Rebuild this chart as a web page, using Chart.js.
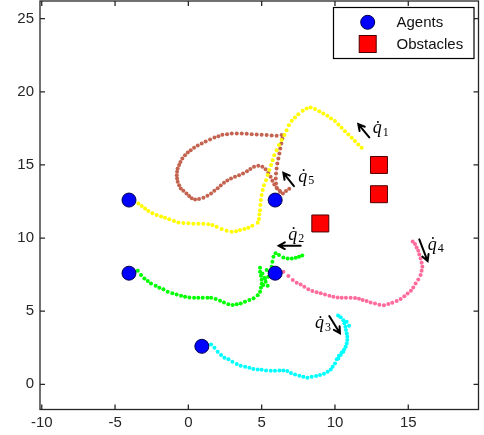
<!DOCTYPE html>
<html>
<head>
<meta charset="utf-8">
<style>
  body { margin: 0; padding: 0; background: #fff; }
  #wrap { width: 484px; height: 435px; }
</style>
</head>
<body>
<div id="wrap"><canvas id="chart" width="484" height="435"></canvas></div>
<script src="https://cdn.jsdelivr.net/npm/chart.js@4.4.0/dist/chart.umd.min.js"></script>
<script>
// axis ticks
var xTicks = [-10, -5, 0, 5, 10, 15];
var yTicks = [0, 5, 10, 15, 20, 25];

// markers
var agents = [[-4.05, 12.6], [5.92, 12.6], [-4.05, 7.6], [5.92, 7.6], [0.92, 2.6]];
var obstacles = [[13, 15], [13, 13], [9, 11]];

// trajectories
var pathQ1 = [[-3.41,12.37],[-3.18,12.19],[-2.95,12.03],[-2.73,11.85],[-2.45,11.69],[-2.16,11.57],[-1.86,11.48],
  [-1.59,11.39],[-1.30,11.28],[-0.98,11.16],[-0.68,11.07],[-0.34,11.03],[0,11.01],[0.34,10.98],[0.68,10.98],
  [1.02,10.98],[1.36,10.94],[1.64,10.89],[1.93,10.78],[2.27,10.62],[2.61,10.50],[2.95,10.43],[3.25,10.46],
  [3.52,10.55],[3.82,10.62],[4.09,10.71],[4.36,10.84],[4.73,11.05],[4.82,11.30],[4.84,11.62],[4.89,11.91],
  [4.91,12.26],[4.95,12.60],[5.00,12.94],[5.07,13.28],[5.16,13.62],[5.30,13.96],[5.41,14.31],[5.52,14.65],
  [5.64,14.99],[5.75,15.33],[5.86,15.67],[6.02,16.01],[6.18,16.36],[6.36,16.70],[6.55,17.04],[6.70,17.38],
  [6.86,17.72],[7.05,18.02],[7.27,18.25],[7.50,18.47],[7.80,18.70],[8.07,18.86],[8.34,18.93],[8.64,18.82],
  [8.93,18.68],[9.20,18.52],[9.48,18.36],[9.73,18.18],[10.00,18.00],[10.23,17.77],[10.45,17.54],[10.68,17.31],
  [10.91,17.08],[11.14,16.86],[11.36,16.63],[11.59,16.40],[11.82,16.17]];

var pathQ5 = [[6.25,13.16],[6.05,13.39],[5.98,13.73],[5.96,14.07],[5.98,14.41],[6.02,14.76],[6.07,15.10],
  [6.14,15.44],[6.21,15.78],[6.27,16.13],[6.34,16.47],[6.41,16.81],[6.36,17.04],[6.02,17.00],[5.68,17.02],
  [5.34,17.04],[5.00,17.06],[4.66,17.08],[4.32,17.10],[3.98,17.13],[3.64,17.15],[3.30,17.15],[2.96,17.15],
  [2.64,17.10],[2.32,17.06],[2.05,16.97],[1.78,16.88],[1.48,16.74],[1.18,16.60],[0.91,16.47],[0.64,16.33],
  [0.39,16.17],[0.16,16.01],[-0.04,15.85],[-0.23,15.67],[-0.41,15.44],[-0.54,15.21],[-0.63,14.99],
  [-0.73,14.76],[-0.77,14.53],[-0.79,14.30],[-0.77,14.08],[-0.73,13.85],[-0.63,13.62],[-0.52,13.39],
  [-0.34,13.23],[-0.13,13.05],[0.05,12.87],[0.23,12.73],[0.46,12.64],[0.73,12.67],[1.03,12.76],[1.30,12.89],
  [1.55,13.05],[1.77,13.23],[2.00,13.41],[2.21,13.60],[2.43,13.78],[2.66,13.94],[2.91,14.07],[3.18,14.19],
  [3.46,14.30],[3.73,14.41],[4.00,14.57],[4.23,14.73],[4.48,14.87],[4.77,14.94],[5.05,14.87],[5.27,14.71],
  [5.45,14.46],[5.61,14.19],[5.73,13.92],[5.86,13.67],[6.02,13.44],[6.23,13.24],[6.45,13.05],[6.66,13.22],
  [6.88,13.38]];

var pathQ2 = [[-3.45,7.76],[-3.23,7.47],[-3.00,7.24],[-2.77,7.06],[-2.55,6.90],[-2.23,6.74],[-1.98,6.60],
  [-1.70,6.51],[-1.41,6.33],[-1.09,6.22],[-0.80,6.15],[-0.50,6.06],[-0.23,5.99],[0.07,5.94],[0.39,5.92],
  [0.68,5.92],[0.98,5.92],[1.30,5.92],[1.55,5.92],[1.86,5.83],[2.16,5.72],[2.43,5.60],[2.73,5.47],
  [3.02,5.42],[3.30,5.47],[3.57,5.53],[3.86,5.65],[4.16,5.76],[4.45,5.88],[4.73,6.10],[4.89,6.33],
  [4.95,6.60],[5.00,6.87],[5.00,7.15],[4.95,7.42],[4.89,7.70],[4.89,7.97],[5.05,7.58],[5.18,7.29],
  [5.27,7.02],[5.11,6.79],[5.41,6.74],[5.23,7.24],[5.45,7.36],[5.34,7.81],[5.64,7.52],[5.68,8.04],
  [5.73,8.38],[5.80,8.72],[5.95,8.97],[6.18,8.84],[6.48,8.68],[6.77,8.61],[7.05,8.61],[7.32,8.65],
  [7.55,8.72],[7.77,8.81]];

var pathQ4 = [[6.48,7.70],[6.82,7.40],[7.12,7.13],[7.39,6.95],[7.66,6.83],[7.91,6.67],[8.18,6.51],
  [8.46,6.38],[8.75,6.29],[9.03,6.22],[9.32,6.15],[9.62,6.06],[9.89,5.99],[10.18,5.94],[10.46,5.92],
  [10.75,5.92],[11.07,5.92],[11.37,5.90],[11.64,5.85],[11.89,5.76],[12.16,5.69],[12.43,5.60],[12.73,5.53],
  [13.03,5.44],[13.34,5.40],[13.64,5.49],[13.91,5.58],[14.21,5.69],[14.48,5.83],[14.73,6.03],[14.96,6.21],
  [15.18,6.40],[15.34,6.62],[15.50,6.90],[15.68,7.17],[15.84,7.47],[15.91,7.76],[15.96,8.04],[15.91,8.31],
  [15.84,8.61],[15.75,8.88],[15.68,9.13],[15.57,9.36],[15.46,9.59],[15.30,9.77]];

var pathQ3 = [[1.55,2.73],[1.78,2.50],[2.00,2.23],[2.23,2.00],[2.46,1.82],[2.73,1.71],[3.00,1.55],
  [3.30,1.39],[3.57,1.27],[3.87,1.21],[4.16,1.14],[4.43,1.05],[4.73,1.02],[5.00,1.00],[5.30,0.95],
  [5.62,0.93],[5.91,0.93],[6.21,0.95],[6.48,0.95],[6.75,0.91],[7.00,0.77],[7.28,0.68],[7.57,0.59],
  [7.84,0.52],[8.12,0.45],[8.41,0.52],[8.71,0.57],[8.98,0.64],[9.25,0.73],[9.50,0.86],[9.71,1.02],
  [9.84,1.21],[10.00,1.43],[10.12,1.71],[10.27,1.96],[10.46,2.18],[10.62,2.39],[10.73,2.57],[10.80,2.80],
  [10.84,3.03],[10.84,3.25],[10.80,3.48],[10.75,3.71],[10.71,3.94],[10.64,4.17],[10.57,4.39],[10.39,4.58],
  [10.21,4.71],[10.23,1.77],[10.39,2.00],[10.57,2.23],[10.80,4.28],[10.96,4.00]];

// velocity arrows: tail, head, label anchor, label index
var arrowTail = [[12.34,16.88],[7.66,9.48],[9.61,4.67],[15.75,9.91],[7.20,13.55]];
var arrowHead = [[11.59,17.79],[6.16,9.48],[10.34,3.49],[16.32,8.43],[6.48,14.46]];
var arrowLabelPos = [[12.57,17.49],[6.82,10.20],[8.64,4.17],[16.32,9.52],[7.50,14.19]];
var arrowLabelIdx = ['1', '2', '3', '4', '5'];

var legendNames = ['Agents', 'Obstacles'];

function pts(arr) { return arr.map(function (p) { return { x: p[0], y: p[1] }; }); }

function dots(arr, color) {
  return {
    data: pts(arr), showLine: false, pointRadius: 2, pointHoverRadius: 2,
    pointBackgroundColor: color, pointBorderWidth: 0, pointBorderColor: color
  };
}

function noPad(s) {
  s.paddingLeft = 0; s.paddingRight = 0; s.paddingTop = 0; s.paddingBottom = 0;
}

var boxPlugin = {
  id: 'box',
  afterDatasetsDraw: function (chart) {
    var a = chart.chartArea, xs = chart.scales.x, ys = chart.scales.y, c = chart.ctx;
    c.save();
    c.strokeStyle = '#262626';
    c.lineWidth = 1.3;
    c.strokeRect(a.left, a.top, a.right - a.left, a.bottom - a.top);
    c.beginPath();
    xTicks.forEach(function (v) {
      var p = xs.getPixelForValue(v);
      c.moveTo(p, a.bottom); c.lineTo(p, a.bottom - 5);
      c.moveTo(p, a.top); c.lineTo(p, a.top + 5);
    });
    yTicks.forEach(function (v) {
      var p = ys.getPixelForValue(v);
      c.moveTo(a.left, p); c.lineTo(a.left + 5, p);
      c.moveTo(a.right, p); c.lineTo(a.right - 5, p);
    });
    c.stroke();

    // arrows
    c.strokeStyle = '#000';
    c.lineWidth = 2;
    c.lineCap = 'round';
    for (var i = 0; i < arrowTail.length; i++) {
      var tx = xs.getPixelForValue(arrowTail[i][0]), ty = ys.getPixelForValue(arrowTail[i][1]);
      var hx = xs.getPixelForValue(arrowHead[i][0]), hy = ys.getPixelForValue(arrowHead[i][1]);
      var ang = Math.atan2(hy - ty, hx - tx);
      c.beginPath();
      c.moveTo(tx, ty); c.lineTo(hx, hy);
      c.moveTo(hx - 7 * Math.cos(ang - 0.5), hy - 7 * Math.sin(ang - 0.5));
      c.lineTo(hx, hy);
      c.lineTo(hx - 7 * Math.cos(ang + 0.5), hy - 7 * Math.sin(ang + 0.5));
      c.stroke();

      var lx = xs.getPixelForValue(arrowLabelPos[i][0]), ly = ys.getPixelForValue(arrowLabelPos[i][1]);
      c.fillStyle = '#000';
      c.textAlign = 'left';
      c.textBaseline = 'middle';
      c.font = 'italic 18px "Liberation Serif"';
      c.fillText('q\u0307', lx, ly);
      var w = c.measureText('q').width;
      c.font = '12px "Liberation Serif"';
      c.fillText(arrowLabelIdx[i], lx + w + 1, ly + 4);
    }

    // legend
    c.lineWidth = 1.2;
    c.fillStyle = '#fff';
    c.strokeStyle = '#000';
    c.fillRect(333.5, 7.5, 140.5, 51);
    c.strokeRect(333.5, 7.5, 140.5, 51);
    c.beginPath();
    c.arc(367.7, 22.3, 7, 0, Math.PI * 2);
    c.fillStyle = '#0000ff';
    c.fill();
    c.lineWidth = 1;
    c.strokeStyle = '#00004d';
    c.stroke();
    c.fillStyle = '#ff0000';
    c.fillRect(359.2, 35.5, 17, 17);
    c.strokeStyle = '#4d0000';
    c.strokeRect(359.2, 35.5, 17, 17);
    c.fillStyle = '#111';
    c.font = '15px "Liberation Sans", Arial, sans-serif';
    c.fillText(legendNames[0], 396.5, 22.8);
    c.fillText(legendNames[1], 396.5, 44.5);
    c.restore();
  }
};

var tickFont = { family: '"Liberation Sans", Arial, sans-serif', size: 15 };

new Chart(document.getElementById('chart'), {
  type: 'scatter',
  data: {
    datasets: [
      {
        data: pts(agents), pointStyle: 'circle', pointRadius: 7, pointHoverRadius: 7,
        pointBackgroundColor: '#0000ff', pointBorderColor: '#00004d', pointBorderWidth: 1
      },
      {
        data: pts(obstacles), pointStyle: 'rect', pointRadius: 12, pointHoverRadius: 12,
        pointBackgroundColor: '#ff0000', pointBorderColor: '#4d0000', pointBorderWidth: 1
      },
      dots(pathQ1, '#ffff00'),
      dots(pathQ5, '#c46450'),
      dots(pathQ2, '#00ff00'),
      dots(pathQ4, '#ff6b9a'),
      dots(pathQ3, '#00ffff')
    ]
  },
  options: {
    responsive: false,
    animation: false,
    devicePixelRatio: 1,
    layout: { autoPadding: false, padding: { left: 0, top: 1, right: 5.5, bottom: 0 } },
    plugins: { legend: { display: false }, tooltip: { enabled: false } },
    scales: {
      x: {
        type: 'linear', min: -10.12, max: 19.79,
        grid: { display: false, drawTicks: false },
        border: { display: false },
        ticks: { font: tickFont, color: '#262626', padding: 4, maxRotation: 0 },
        afterBuildTicks: function (s) { s.ticks = xTicks.map(function (v) { return { value: v }; }); },
        afterFit: function (s) { s.height = 25.5; noPad(s); }
      },
      y: {
        type: 'linear', min: -1.72, max: 26.21,
        grid: { display: false, drawTicks: false },
        border: { display: false },
        ticks: { font: tickFont, color: '#262626', padding: 6 },
        afterBuildTicks: function (s) { s.ticks = yTicks.map(function (v) { return { value: v }; }); },
        afterFit: function (s) { s.width = 40; noPad(s); }
      }
    }
  },
  plugins: [boxPlugin]
});
</script>
</body>
</html>
